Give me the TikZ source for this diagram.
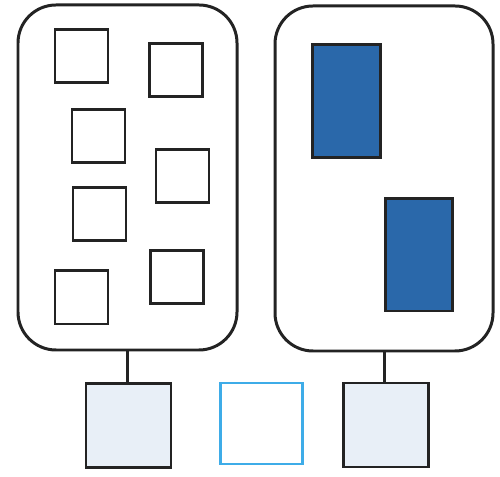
\documentclass[tikz,border=0pt]{standalone}
\usetikzlibrary{positioning}
\definecolor{cellblue}{RGB}{42,104,170}
\definecolor{paleblue}{RGB}{232,239,247}
\definecolor{skyline}{RGB}{62,172,232}
\definecolor{inkgray}{RGB}{35,35,35}

\begin{document}
\begin{tikzpicture}[
    bigbox/.style={draw=inkgray,rounded corners=0.76cm,line width=1.7pt,
                   minimum width=4.38cm,minimum height=6.9cm,inner sep=0pt},
    sqbox/.style={draw=inkgray,line width=1.7pt,minimum size=1.06cm,inner sep=0pt},
    blubox/.style={draw=inkgray,fill=cellblue,line width=1.7pt,inner sep=0pt},
    basebox/.style={draw=inkgray,fill=paleblue,line width=1.7pt,
                    minimum width=1.7cm,minimum height=1.68cm,inner sep=0pt},
    link/.style={draw=inkgray,line width=1.7pt}
]
  \useasboundingbox (0,0) rectangle (10,9.54);

  % Two large containers
  \node[bigbox] (left) at (2.55,5.99) {};
  \node[bigbox,minimum width=4.36cm] (right) at (7.68,5.97) {};

  % Small squares inside the left container
  \node[sqbox] (s1) at (1.63,8.42) {};
  \node[sqbox] (s2) at (3.52,8.13) {};
  \node[sqbox] (s3) at (1.97,6.82) {};
  \node[sqbox] (s4) at (3.65,6.01) {};
  \node[sqbox] (s5) at (1.99,5.26) {};
  \node[sqbox] (s6) at (1.63,3.59) {};
  \node[sqbox] (s7) at (3.54,3.99) {};

  % Filled blocks inside the right container
  \node[blubox,minimum width=1.36cm,minimum height=2.26cm] (b1) at (6.92,7.51) {};
  \node[blubox,minimum width=1.34cm,minimum height=2.24cm] (b2) at (8.37,4.44) {};

  % Base squares
  \node[basebox] (baseL) at (2.57,1.03) {};
  \node[draw=skyline,line width=1.7pt,minimum width=1.64cm,minimum height=1.62cm,
        inner sep=0pt] (baseM) at (5.22,1.07) {};
  \node[basebox] (baseR) at (7.71,1.04) {};

  % Links
  \draw[link] (left.south) -- (left.south |- baseL.north);
  \draw[link] (right.south) -- (right.south |- baseR.north);

\end{tikzpicture}
\end{document}
